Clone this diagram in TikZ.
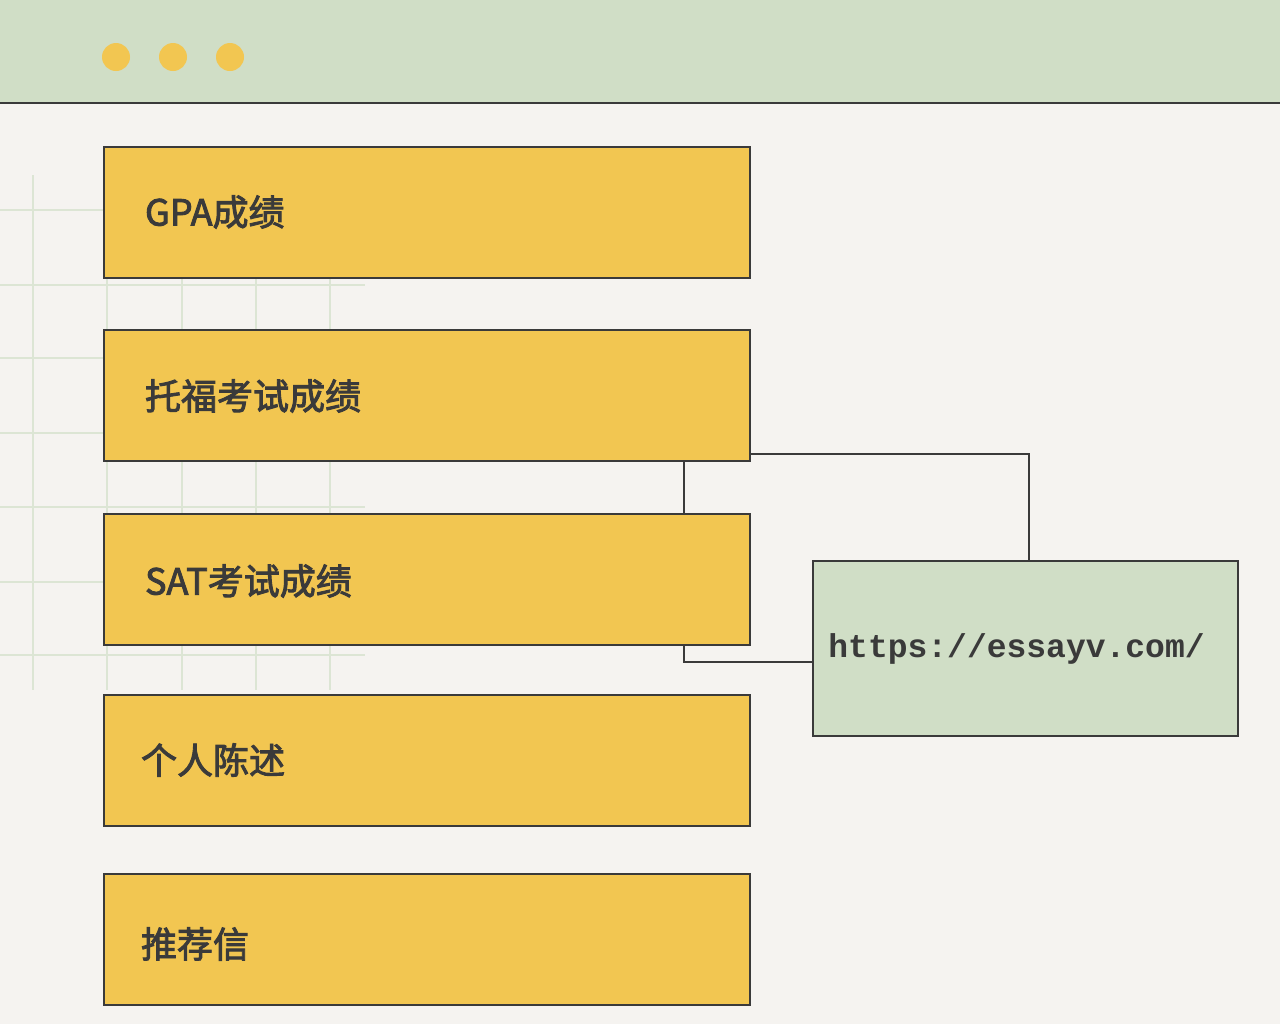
\documentclass[tikz,border=0pt]{standalone}
\usepackage{fontspec}
\newfontfamily\cjk{Noto Sans CJK SC}[FakeBold=2.5]
\newfontfamily\mono{Liberation Mono}
\definecolor{bg}{HTML}{F5F3F0}
\definecolor{sage}{HTML}{D0DEC6}
\definecolor{gold}{HTML}{F2C651}
\definecolor{ink}{HTML}{3A3A3A}
\definecolor{gridc}{HTML}{DCE5D4}
\begin{document}
\begin{tikzpicture}[x=0.5pt,y=-0.5pt,
  itembox/.style={draw=ink,line width=1pt,fill=gold,minimum width=323pt,minimum height=65.5pt,anchor=north west,inner sep=0},
  itemtext/.style={font=\cjk\fontsize{18}{20}\selectfont,text=ink,anchor=west},
  link/.style={draw=ink,line width=0.8pt}]
\fill[bg] (0,0) rectangle (1280,1024);
\useasboundingbox (0,0) rectangle (1280,1024);
\fill[sage] (0,0) rectangle (1280,103);
\draw[ink,line width=1.2pt] (0,103) -- (1280,103);
\foreach \x in {116,173,230} \fill[gold] (\x,57) circle (7pt);
\begin{scope}[gridc,line width=0.8pt]
\foreach \x in {33,107,182,256,330} \draw (\x,175) -- (\x,690);
\foreach \y in {210,285,358,433,507,582,655} \draw (0,\y) -- (365,\y);
\end{scope}
\node[itembox] (b1) at (103,146) {};
\node[itembox] (b2) at (103,329) {};
\node[itembox] (b3) at (103,513) {};
\node[itembox] (b4) at (103,694) {};
\node[itembox] (b5) at (103,873) {};
\node[itemtext] (t1) at (138,212) {GPA成绩};
\node[itemtext] (t2) at (138,396) {托福考试成绩};
\node[itemtext] (t3) at (138,581) {SAT考试成绩};
\node[itemtext] (t4) at (134,760) {个人陈述};
\node[itemtext] (t5) at (134,944) {推荐信};
\node[draw=ink,line width=1pt,fill=sage,minimum width=212.5pt,minimum height=87.5pt,anchor=north west,inner sep=0] (url) at (812,560) {};
\node[font=\mono\bfseries\fontsize{16.5}{18}\selectfont,text=ink,anchor=west,inner sep=0] (ut) at (828,649) {https://essayv.com/};
\coordinate (c1) at (1029,454);
\draw[link] (b2.east |- c1) -- (c1) -- (c1 |- url.north);
\coordinate (c2) at (684,0);
\draw[link] (b2.south -| c2) -- (b3.north -| c2);
\coordinate (c3) at (684,662);
\draw[link] (b3.south -| c3) -- (c3) -- (url.west |- c3);
\end{tikzpicture}
\end{document}
